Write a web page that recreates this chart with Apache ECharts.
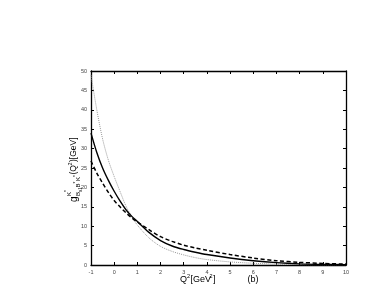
<!DOCTYPE html>
<html><head><meta charset="utf-8">
<script src="https://cdn.jsdelivr.net/npm/echarts@6/dist/echarts.min.js"></script>
<style>html,body{margin:0;padding:0;background:#fff}#c{width:382px;height:298px}</style>
</head><body><div id="c"></div>
<script>
var qPoints = [-1,-0.75,-0.5,-0.25,0,0.25,0.5,0.75,1,1.5,2,2.5,3,3.5,4,5,6,7,8,9,10];
var solidVals = [34,29,25,21.8,19,16.5,14.3,12.6,11.2,8.4,6.3,4.9,4.0,3.3,2.7,1.8,1.1,0.6,0.3,0.15,0.08];
var dashedVals = [26.8,23.7,21.1,18.7,16.6,15.0,13.5,12.2,11.1,9.1,7.3,6.1,5.1,4.4,3.8,2.7,1.8,1.1,0.7,0.4,0.25];
var dottedVals = [49,40,32.5,27,22.8,19.0,15.3,12.5,10.3,7.0,4.8,3.5,2.6,1.9,1.4,0.8,0.45,0.22,0.1,0.05,0.02];
var xTicks = {min:-1, max:10, step:1};
var yTicks = {min:0, max:50, step:5};

function pairs(v){ return qPoints.map(function(q,i){ return [q, v[i]]; }); }

var chart = echarts.init(document.getElementById('c'), null, {renderer:'canvas'});
var F = 'Liberation Sans, Arial, sans-serif';
var axLine = {show:true, onZero:false, lineStyle:{color:'#000', width:1.3}};
var tick = {show:true, inside:true, length:3, lineStyle:{color:'#000', width:1}};
var lab = {fontSize:5.5, color:'#444', fontFamily:F, margin:4};

var yLabel = {
  type:'group', x:74, y:202, rotation:Math.PI/2,
  children:[
    {type:'text', x:0, y:0, style:{text:'g', fontSize:10, fontFamily:F, fill:'#000', verticalAlign:'middle'}},
    {type:'text', x:6, y:-5, style:{text:'K', fontSize:6, fontFamily:F, fill:'#000', verticalAlign:'middle'}},
    {type:'text', x:10, y:-7, style:{text:'*', fontSize:5, fontFamily:F, fill:'#000', verticalAlign:'middle'}},
    {type:'text', x:6, y:4, style:{text:'B', fontSize:6, fontFamily:F, fill:'#000', verticalAlign:'middle'}},
    {type:'text', x:10, y:6.5, style:{text:'s1', fontSize:4.5, fontFamily:F, fill:'#000', verticalAlign:'middle'}},
    {type:'text', x:14.5, y:4, style:{text:'B', fontSize:6, fontFamily:F, fill:'#000', verticalAlign:'middle'}},
    {type:'text', x:18.5, y:2, style:{text:'*', fontSize:5, fontFamily:F, fill:'#000', verticalAlign:'middle'}},
    {type:'text', x:21, y:4, style:{text:'K', fontSize:6, fontFamily:F, fill:'#000', verticalAlign:'middle'}},
    {type:'text', x:25, y:2, style:{text:'*', fontSize:5, fontFamily:F, fill:'#000', verticalAlign:'middle'}},
    {type:'text', x:27.5, y:0, style:{text:'(Q', fontSize:8.5, fontFamily:F, fill:'#000', verticalAlign:'middle'}},
    {type:'text', x:36.5, y:-3.5, style:{text:'2', fontSize:5.5, fontFamily:F, fill:'#000', verticalAlign:'middle'}},
    {type:'text', x:40, y:0, style:{text:')[GeV]', fontSize:8.5, fontFamily:F, fill:'#000', verticalAlign:'middle'}}
  ]
};
var xLabel = {
  type:'group', x:180, y:280,
  children:[
    {type:'text', x:0, y:0, style:{text:'Q', fontSize:9, fontFamily:F, fill:'#000', verticalAlign:'middle'}},
    {type:'text', x:7, y:-3.5, style:{text:'2', fontSize:5.5, fontFamily:F, fill:'#000', verticalAlign:'middle'}},
    {type:'text', x:10.5, y:0, style:{text:'[GeV', fontSize:9, fontFamily:F, fill:'#000', verticalAlign:'middle'}},
    {type:'text', x:29.5, y:-3.5, style:{text:'2', fontSize:5.5, fontFamily:F, fill:'#000', verticalAlign:'middle'}},
    {type:'text', x:33, y:0, style:{text:']', fontSize:9, fontFamily:F, fill:'#000', verticalAlign:'middle'}}
  ]
};
var bLabel = {type:'text', x:253, y:280, style:{text:'(b)', fontSize:9, fontFamily:F, fill:'#000', align:'center', verticalAlign:'middle'}};

chart.setOption({
  animation:false,
  backgroundColor:'#fff',
  grid:{left:91, right:36, top:71, bottom:33, containLabel:false},
  xAxis:[
    {type:'value', min:xTicks.min, max:xTicks.max, interval:xTicks.step, position:'bottom',
     axisLine:axLine, axisTick:tick, axisLabel:lab, splitLine:{show:false}},
    {type:'value', min:xTicks.min, max:xTicks.max, interval:xTicks.step, position:'top',
     axisLine:axLine, axisTick:tick, axisLabel:{show:false}, splitLine:{show:false}}
  ],
  yAxis:[
    {type:'value', min:yTicks.min, max:yTicks.max, interval:yTicks.step, position:'left',
     axisLine:axLine, axisTick:tick, axisLabel:lab, splitLine:{show:false}},
    {type:'value', min:yTicks.min, max:yTicks.max, interval:yTicks.step, position:'right',
     axisLine:axLine, axisTick:tick, axisLabel:{show:false}, splitLine:{show:false}}
  ],
  series:[
    {type:'line', data:pairs(dottedVals), smooth:0.3, symbol:'none',
     lineStyle:{color:'#999', width:1, type:[1,1]}},
    {type:'line', data:pairs(dashedVals), smooth:0.3, symbol:'none',
     lineStyle:{color:'#000', width:1.5, type:[4,2.5]}},
    {type:'line', data:pairs(solidVals), smooth:0.3, symbol:'none',
     lineStyle:{color:'#000', width:1.4, type:'solid'}}
  ],
  graphic:[yLabel, xLabel, bLabel]
});
</script></body></html>
